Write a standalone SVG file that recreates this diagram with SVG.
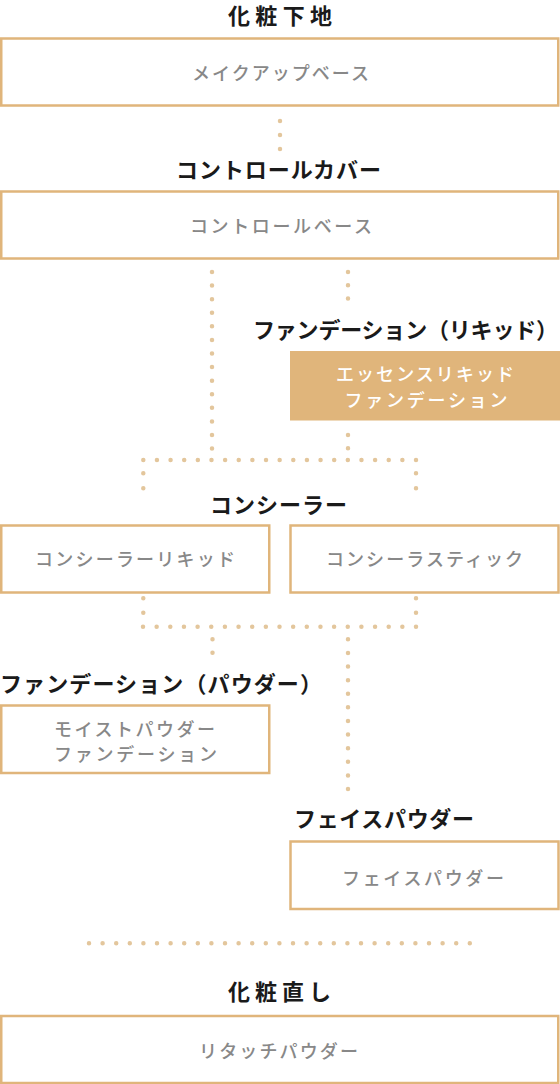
<svg xmlns="http://www.w3.org/2000/svg" width="560" height="1084" viewBox="0 0 560 1084">
<style>
.box{fill:#ffffff;stroke:#e0b57b;stroke-width:2.5}
.fill{fill:#e0b57b}
.t{font-family:"Noto Sans CJK JP","Noto Sans",sans-serif;font-size:22px;font-weight:700;fill:#1a1a1a;dominant-baseline:central}
.b{font-family:"Noto Sans CJK JP","Noto Sans",sans-serif;font-size:18px;font-weight:500;fill:#888888;dominant-baseline:central;text-anchor:middle}
.w{fill:#ffffff}
.m{text-anchor:middle}
.d{stroke:#e3c69c;stroke-width:4.5;stroke-linecap:round;fill:none}
</style>
<rect width="560" height="1084" fill="#ffffff"/>
<g id="connectors">
<line class="d" x1="280" y1="121" x2="280" y2="150" stroke-dasharray="0 14"/>
<line class="d" x1="212" y1="272" x2="212" y2="449" stroke-dasharray="0 13.58"/>
<line class="d" x1="348" y1="272" x2="348" y2="299.5" stroke-dasharray="0 13.3"/>
<line class="d" x1="348" y1="435" x2="348" y2="449" stroke-dasharray="0 13.3"/>
<line class="d" x1="143.3" y1="460" x2="417" y2="460" stroke-dasharray="0 13.635"/>
<line class="d" x1="143.3" y1="473.3" x2="143.3" y2="489" stroke-dasharray="0 15"/>
<line class="d" x1="416" y1="473.3" x2="416" y2="489" stroke-dasharray="0 15"/>
<line class="d" x1="143.3" y1="598.3" x2="143.3" y2="613.5" stroke-dasharray="0 14.4"/>
<line class="d" x1="416" y1="598.3" x2="416" y2="613.5" stroke-dasharray="0 14.4"/>
<line class="d" x1="143" y1="626.7" x2="417" y2="626.7" stroke-dasharray="0 13.65"/>
<line class="d" x1="212.5" y1="639.3" x2="212.5" y2="653.5" stroke-dasharray="0 13.4"/>
<line class="d" x1="348" y1="639.3" x2="348" y2="790" stroke-dasharray="0 13.61"/>
<line class="d" x1="89" y1="943.3" x2="471" y2="943.3" stroke-dasharray="0 13.6"/>
</g>
<g id="title-base"><text class="t m" x="280" y="14" textLength="104">化粧下地</text></g>
<g id="node-makeup-base">
<rect class="box" x="1.25" y="38.5" width="557" height="67"/>
<text class="b" x="280.5" y="72" textLength="177">メイクアップベース</text>
</g>
<g id="title-control"><text class="t m" x="278.5" y="168" textLength="205">コントロールカバー</text></g>
<g id="node-control-base">
<rect class="box" x="1.25" y="191.5" width="557" height="67"/>
<text class="b" x="281" y="225" textLength="182">コントロールベース</text>
</g>
<g id="title-liquid"><text class="t" x="253" y="328" textLength="305">ファンデーション（リキッド）</text></g>
<g id="node-essence">
<rect class="fill" x="290" y="351" width="270" height="69.5"/>
<text class="b w" x="425" y="373" textLength="178">エッセンスリキッド</text>
<text class="b w" x="426" y="399" textLength="163">ファンデーション</text>
</g>
<g id="title-concealer"><text class="t m" x="278.5" y="502.5" textLength="137">コンシーラー</text></g>
<g id="node-concealer-liquid">
<rect class="box" x="1.25" y="525.5" width="268" height="67"/>
<text class="b" x="135" y="558" textLength="200">コンシーラーリキッド</text>
</g>
<g id="node-concealer-stick">
<rect class="box" x="290.5" y="525.5" width="268" height="67"/>
<text class="b" x="424.5" y="558" textLength="197">コンシーラスティック</text>
</g>
<g id="title-powder"><text class="t" x="0" y="682" textLength="322">ファンデーション（パウダー）</text></g>
<g id="node-moist">
<rect class="box" x="1.25" y="705.5" width="268" height="67.5"/>
<text class="b" x="134.5" y="728" textLength="161">モイストパウダー</text>
<text class="b" x="135.5" y="752.5" textLength="163">ファンデーション</text>
</g>
<g id="title-face"><text class="t m" x="384" y="817" textLength="180">フェイスパウダー</text></g>
<g id="node-face">
<rect class="box" x="290.5" y="841.5" width="268" height="67.5"/>
<text class="b" x="423" y="876.5" textLength="162">フェイスパウダー</text>
</g>
<g id="title-touchup"><text class="t m" x="279.5" y="990" textLength="103">化粧直し</text></g>
<g id="node-retouch">
<rect class="box" x="1.25" y="1016" width="557" height="67"/>
<text class="b" x="278.5" y="1050" textLength="159">リタッチパウダー</text>
</g>
</svg>
